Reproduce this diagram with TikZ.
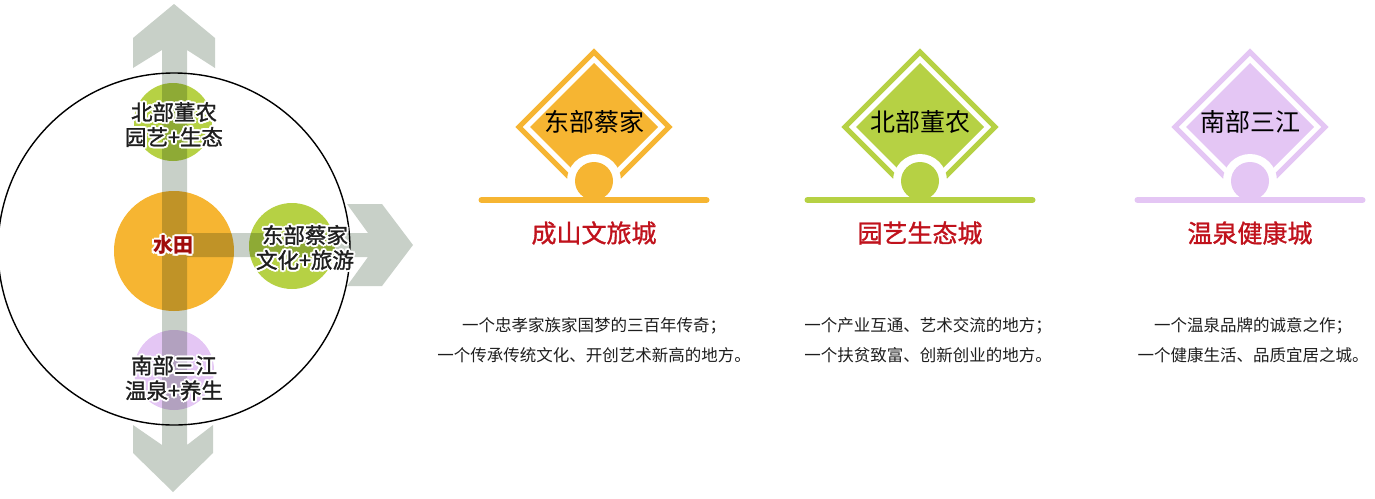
\documentclass[tikz,border=0pt]{standalone}
\usepackage{fontspec}
\setmainfont{Noto Sans CJK SC}
\newfontfamily\heavy[FakeBold=1.2]{Noto Sans CJK SC}
\usepackage{tikz}
\usetikzlibrary{positioning}

\definecolor{cOrange}{HTML}{F6B532}
\definecolor{cGreen}{HTML}{B6D144}
\definecolor{cPurple}{HTML}{E4C6F4}
\definecolor{cGray}{HTML}{C8D0C8}
\definecolor{cRed}{HTML}{C0121C}
\definecolor{cCore}{HTML}{A00C0C}
\definecolor{cText}{HTML}{1E1E1E}

% white halo behind a line of text
\newcommand{\gcopy}[3]{\makebox[0pt][l]{\hspace*{#1}\raisebox{#2}[0pt][0pt]{\textcolor{white}{#3}}}}
\newcommand{\glow}[1]{\gcopy{-2pt}{0pt}{#1}\gcopy{2pt}{0pt}{#1}%
  \gcopy{0pt}{2pt}{#1}\gcopy{0pt}{-2pt}{#1}%
  \gcopy{-1.5pt}{-1.5pt}{#1}\gcopy{1.5pt}{1.5pt}{#1}%
  \gcopy{-1.5pt}{1.5pt}{#1}\gcopy{1.5pt}{-1.5pt}{#1}#1}

\tikzset{
  zone/.style={circle, minimum size=#1, inner sep=0pt},
  tag/.style={align=center, text=cText, inner sep=0pt, font=\heavy\fontsize{21.5}{25}\selectfont},
  zlabel/.style={text=black, inner sep=0pt, font=\fontsize{25}{25}\selectfont},
  ztitle/.style={text=cRed, inner sep=0pt, font=\heavy\fontsize{25}{25}\selectfont},
  story/.style={align=center, text=cText, inner sep=0pt, font=\fontsize{16.5}{30}\selectfont}
}

\begin{document}
\begin{tikzpicture}[x=1pt,y=-1pt]
\useasboundingbox (0,0) rectangle (1375,498);

% zones
\node[zone=120pt, fill=cOrange] (core) at (174,251) {};
\node[zone=78pt, fill=cGreen] (north) at (173,122) {};
\node[zone=86pt, fill=cGreen] (east) at (292,246) {};
\node[zone=80pt, fill=cPurple] (south) at (174,370) {};

% axes
\begin{scope}[blend mode=multiply]
\fill[cGray] (174,4) -- (215,38) -- (215,68) -- (187,50) -- (187,445)
  -- (213,425) -- (213,453) -- (173,492) -- (133,453) -- (133,425)
  -- (162,445) -- (162,50) -- (133,68) -- (133,38) -- cycle;
\fill[cGray] (187,233) -- (368,233) -- (347,204) -- (382,204) -- (413,245)
  -- (382,286) -- (347,286) -- (368,257) -- (187,257) -- cycle;
\end{scope}

% ring
\node[circle, draw=black, line width=1.4pt, minimum size=352pt, inner sep=0pt] (ring) at (174,249) {};

% labels
\node[tag] (north label) at (174,124.5) {\glow{北部董农}\\\glow{园艺+生态}};
\node[tag] (east label) at (305,247.5) {\glow{东部蔡家}\\\glow{文化+旅游}};
\node[tag] (south label) at (174,378) {\glow{南部三江}\\\glow{温泉+养生}};
\node[text=cCore, inner sep=0pt, font=\bfseries\fontsize{20}{20}\selectfont] (core label) at (173,245) {\glow{水田}};

% panels
\foreach \i/\cx/\tx/\zcol/\zname/\zcity/\lineA/\lineB in {
  1/594/594/cOrange/东部蔡家/成山文旅城/一个忠孝家族家国梦的三百年传奇；/一个传承传统文化、开创艺术新高的地方。,
  2/920/928/cGreen/北部董农/园艺生态城/一个产业互通、艺术交流的地方；/一个扶贫致富、创新创业的地方。,
  3/1250/1253/cPurple/南部三江/温泉健康城/一个温泉品牌的诚意之作；/一个健康生活、品质宜居之城。}{
  \draw[\zcol, line width=5pt] (\cx,52) -- (\cx+75,127) -- (\cx,202) -- (\cx-75,127) -- cycle;
  \fill[\zcol] (\cx,63) -- (\cx+64,127) -- (\cx,191) -- (\cx-64,127) -- cycle;
  \fill[white] (\cx,181) circle (27pt);
  \node[zone=38pt, fill=\zcol] (knob-\i) at (\cx,181) {};
  \draw[\zcol, line width=6pt, line cap=round] (\cx-112.5,200) -- (\cx+112.5,200);
  \node[zlabel] (name-\i) at (\cx,122) {\zname};
  \node[ztitle] (city-\i) at (\cx,233) {\zcity};
  \node[story] (story-\i) at (\tx,340) {\lineA\\\lineB};
}

\end{tikzpicture}
\end{document}
